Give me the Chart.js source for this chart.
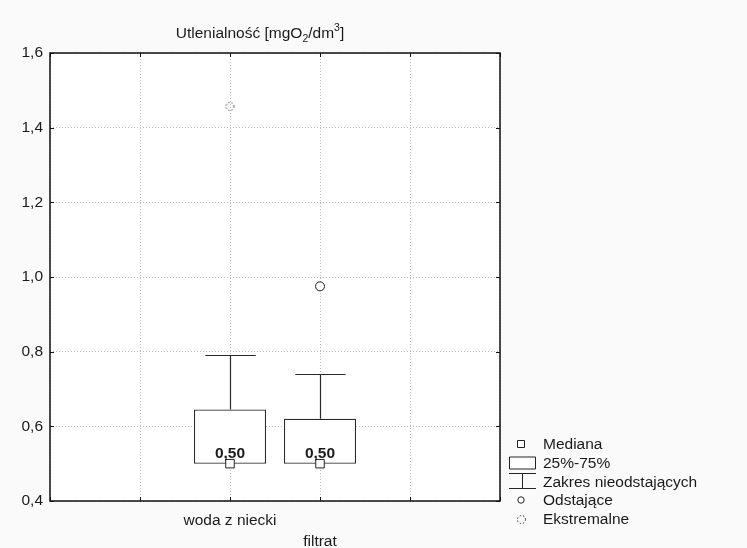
<!DOCTYPE html>
<html>
<head>
<meta charset="utf-8">
<script src="https://cdn.jsdelivr.net/npm/chart.js@4.4.1/dist/chart.umd.min.js"></script>
<style>
  html, body { margin: 0; padding: 0; background: #fafafa; }
  canvas { display: block; }
</style>
</head>
<body>
<canvas id="boxChart" width="747" height="548"></canvas>
<script>
// values
const categories = ['woda z niecki', 'filtrat'];
const medians = [0.50, 0.50];
const q1 = [0.50, 0.50];
const q3 = [0.645, 0.62];
const whiskerHigh = [0.79, 0.74];
const outliers = [[], [0.975]];
const extremes = [[1.457], []];
const yTicks = [0.4, 0.6, 0.8, 1.0, 1.2, 1.4, 1.6];
const legendLabels = ['Mediana', '25%-75%', 'Zakres nieodstających', 'Odstające', 'Ekstremalne'];

const FONT = '"Liberation Sans", Arial, sans-serif';
const FS = 15.5;
const INK = '#1a1a1a';

function comma(v, d) { return v.toFixed(d).replace('.', ','); }

// dotted circle used for extreme values
function dottedCircle(r) {
  const c = document.createElement('canvas');
  c.width = c.height = r * 2 + 5;
  const g = c.getContext('2d');
  g.strokeStyle = '#222';
  g.lineWidth = 1;
  g.setLineDash([1.3, 2]);
  g.beginPath();
  g.arc(c.width / 2, c.height / 2, r, 0, Math.PI * 2);
  g.stroke();
  return c;
}
const extremeIcon = dottedCircle(4);

const boxData = categories.map((c, i) => ({ x: i, y: [q1[i], q3[i]] }));
const medianData = categories.map((c, i) => ({ x: i, y: medians[i] }));
const outlierData = [];
outliers.forEach((arr, i) => arr.forEach(v => outlierData.push({ x: i, y: v })));
const extremeData = [];
extremes.forEach((arr, i) => arr.forEach(v => extremeData.push({ x: i, y: v })));

const boxPlotExtras = {
  id: 'boxPlotExtras',
  beforeDraw(chart) {
    const { ctx, chartArea: a } = chart;
    ctx.save();
    ctx.fillStyle = '#fff';
    ctx.fillRect(a.left, a.top, a.right - a.left, a.bottom - a.top);
    ctx.restore();
  },
  beforeDatasetsDraw(chart) {
    // whiskers, drawn under the boxes
    const { ctx, scales: { x, y } } = chart;
    const bars = chart.getDatasetMeta(0).data;
    ctx.save();
    ctx.strokeStyle = '#2a2a2a';
    ctx.lineWidth = 1.2;
    categories.forEach((c, i) => {
      const px = Math.round(x.getPixelForValue(i)) + 0.5;
      const top = Math.round(y.getPixelForValue(whiskerHigh[i])) + 0.5;
      const boxTop = y.getPixelForValue(q3[i]);
      const half = bars[i].width * 0.35;
      ctx.beginPath();
      ctx.moveTo(px, boxTop);
      ctx.lineTo(px, top);
      ctx.moveTo(px - half, top);
      ctx.lineTo(px + half, top);
      ctx.stroke();
    });
    ctx.restore();
  },
  afterDraw(chart) {
    const { ctx, chartArea: a, scales: { x, y } } = chart;
    ctx.save();
    // frame and inward ticks
    ctx.strokeStyle = '#111';
    ctx.lineWidth = 1.5;
    ctx.strokeRect(a.left, a.top, a.right - a.left, a.bottom - a.top);
    ctx.lineWidth = 1;
    ctx.beginPath();
    x.ticks.forEach(t => {
      const px = Math.round(x.getPixelForValue(t.value)) + 0.5;
      ctx.moveTo(px, a.top); ctx.lineTo(px, a.top + 4);
      ctx.moveTo(px, a.bottom); ctx.lineTo(px, a.bottom - 4);
    });
    y.ticks.forEach(t => {
      const py = Math.round(y.getPixelForValue(t.value)) + 0.5;
      ctx.moveTo(a.left, py); ctx.lineTo(a.left + 4, py);
      ctx.moveTo(a.right, py); ctx.lineTo(a.right - 4, py);
    });
    ctx.stroke();

    // median value labels
    ctx.fillStyle = INK;
    ctx.font = 'bold ' + FS + 'px ' + FONT;
    ctx.textAlign = 'center';
    ctx.textBaseline = 'alphabetic';
    categories.forEach((c, i) => {
      ctx.fillText(comma(medians[i], 2), x.getPixelForValue(i), y.getPixelForValue(medians[i]) - 6);
    });

    // title with subscript / superscript
    ctx.textAlign = 'left';
    const parts = [
      ['Utlenialność [mgO', FS, 0], ['2', 10.5, 4], ['/dm', FS, 0], ['3', 10.5, -7], [']', FS, 0]
    ];
    let w = 0;
    parts.forEach(p => { ctx.font = p[1] + 'px ' + FONT; w += ctx.measureText(p[0]).width; });
    let tx = 260 - w / 2;
    parts.forEach(p => {
      ctx.font = p[1] + 'px ' + FONT;
      ctx.fillText(p[0], tx, 38 + p[2]);
      tx += ctx.measureText(p[0]).width;
    });

    // legend
    const lx = 521, textX = 543, rows = [444, 463, 482, 500, 519];
    ctx.font = FS + 'px ' + FONT;
    ctx.textBaseline = 'middle';
    ctx.strokeStyle = '#222';
    ctx.fillStyle = '#fff';
    legendLabels.forEach((lab, k) => {
      const cy = rows[k];
      ctx.beginPath();
      if (k === 0) {
        ctx.rect(lx - 3.5, cy - 3.5, 7, 7);
      } else if (k === 1) {
        ctx.rect(509.5, cy - 6, 26, 12);
      } else if (k === 2) {
        ctx.moveTo(509, cy - 8.5); ctx.lineTo(536, cy - 8.5);
        ctx.moveTo(522.5, cy - 8.5); ctx.lineTo(522.5, cy + 6.5);
        ctx.moveTo(509, cy + 6.5); ctx.lineTo(536, cy + 6.5);
      } else if (k === 3) {
        ctx.arc(lx, cy, 3.2, 0, Math.PI * 2);
      }
      if (k === 4) {
        ctx.drawImage(extremeIcon, Math.round(lx - extremeIcon.width / 2), Math.round(cy - extremeIcon.height / 2));
      } else {
        ctx.fill();
        ctx.stroke();
      }
      ctx.fillStyle = INK;
      ctx.fillText(lab, textX, cy + 1);
      ctx.fillStyle = '#fff';
    });
    ctx.restore();
  }
};

new Chart(document.getElementById('boxChart'), {
  type: 'bar',
  data: {
    datasets: [
      {
        label: '25%-75%',
        data: boxData,
        backgroundColor: '#fff',
        borderColor: '#2a2a2a',
        borderWidth: 1.2,
        borderSkipped: false,
        barPercentage: 1,
        categoryPercentage: 0.8,
        order: 10
      },
      {
        type: 'scatter',
        label: 'Mediana',
        data: medianData,
        pointStyle: 'rect',
        pointRadius: 6,
        backgroundColor: '#fff',
        borderColor: '#222',
        borderWidth: 1,
        order: 1
      },
      {
        type: 'scatter',
        label: 'Odstające',
        data: outlierData,
        pointStyle: 'circle',
        pointRadius: 4.5,
        backgroundColor: '#fff',
        borderColor: '#222',
        borderWidth: 1,
        order: 2
      },
      {
        type: 'scatter',
        label: 'Ekstremalne',
        data: extremeData,
        pointStyle: extremeIcon,
        order: 3
      }
    ]
  },
  options: {
    responsive: false,
    animation: false,
    devicePixelRatio: 1,
    layout: { padding: { left: 0, top: 53, right: 247, bottom: 0 } },
    plugins: {
      legend: { display: false },
      title: { display: false },
      tooltip: { enabled: false }
    },
    scales: {
      x: {
        type: 'linear',
        min: -2,
        max: 3,
        offset: false,
        afterFit: s => { s.height = 47; },
        border: { display: false, dash: [1, 2] },
        grid: { color: '#bdbdbd', drawTicks: false, offset: false },
        ticks: {
          stepSize: 1,
          autoSkip: false,
          maxRotation: 0,
          padding: 9,
          color: INK,
          font: { family: FONT, size: FS, lineHeight: 1.35 },
          callback: v => {
            const i = Math.round(v);
            if (i < 0 || i >= categories.length) return '';
            return i % 2 ? ['', categories[i]] : categories[i];
          }
        }
      },
      y: {
        min: yTicks[0],
        max: yTicks[yTicks.length - 1],
        afterFit: s => { s.width = 50; },
        afterBuildTicks: s => { s.ticks = yTicks.map(v => ({ value: v })); },
        border: { display: false, dash: [1, 2] },
        grid: { color: '#bdbdbd', drawTicks: false },
        ticks: {
          padding: 7,
          color: INK,
          font: { family: FONT, size: FS },
          callback: v => comma(v, 1)
        }
      }
    }
  },
  plugins: [boxPlotExtras]
});
</script>
</body>
</html>
